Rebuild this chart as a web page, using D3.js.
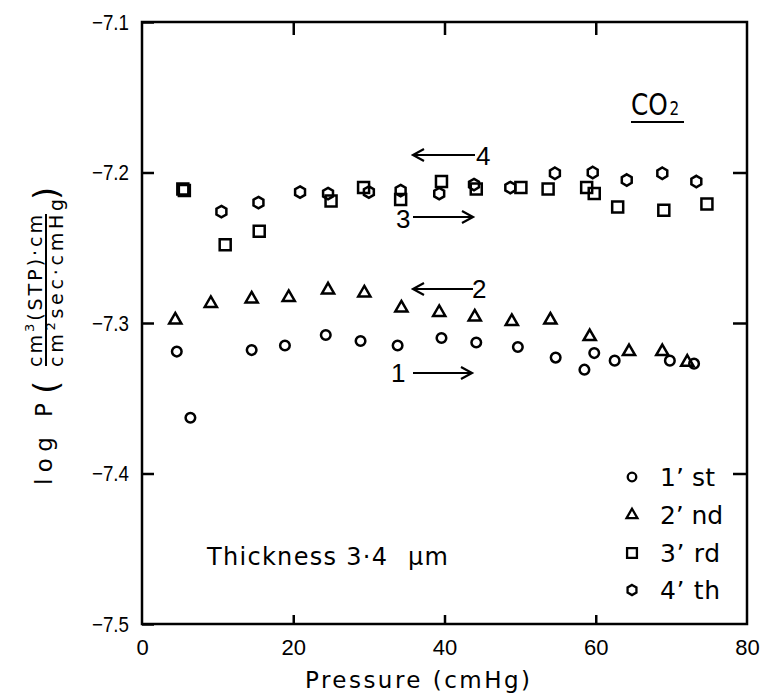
<!DOCTYPE html>
<html>
<head>
<meta charset="utf-8">
<script src="https://d3js.org/d3.v7.min.js"></script>
<title>log P vs pressure, CO2</title>
<style>
    body { margin: 0; background: #fff; }
    svg { display: block; }
    text { font-family: "DejaVu Sans", "Liberation Sans", sans-serif; fill: #000; }
    .num { font-family: "Liberation Sans", "DejaVu Sans", sans-serif; }
</style>
</head>
<body>
<svg id="chart" width="763" height="693"></svg>
<script>
// run 1 (circles)
const run1P = [4.6, 6.4, 14.5, 18.9, 24.3, 28.9, 33.8, 39.6, 44.2, 49.7, 54.7, 58.5, 59.8, 62.5, 69.8, 73.0];
const run1LogP = [-7.319, -7.363, -7.318, -7.315, -7.308, -7.312, -7.315, -7.310, -7.313, -7.316, -7.323, -7.331, -7.320, -7.325, -7.325, -7.327];
// run 2 (triangles)
const run2P = [4.4, 9.1, 14.5, 19.4, 24.6, 29.4, 34.3, 39.3, 44.0, 48.9, 54.0, 59.2, 64.4, 68.8, 72.1];
const run2LogP = [-7.298, -7.287, -7.284, -7.283, -7.278, -7.280, -7.290, -7.293, -7.296, -7.299, -7.298, -7.309, -7.319, -7.319, -7.326];
// run 3 (squares)
const run3P = [5.4, 5.6, 11.0, 15.5, 25.0, 29.3, 34.2, 39.6, 44.2, 50.1, 53.7, 58.8, 59.8, 62.9, 69.0, 74.7];
const run3LogP = [-7.211, -7.212, -7.248, -7.239, -7.219, -7.210, -7.218, -7.206, -7.211, -7.210, -7.211, -7.210, -7.214, -7.223, -7.225, -7.221];
// run 4 (hexagons)
const run4P = [10.5, 15.4, 20.9, 24.6, 30.0, 34.2, 39.3, 43.9, 48.7, 54.6, 59.6, 64.1, 68.8, 73.3];
const run4LogP = [-7.226, -7.220, -7.213, -7.214, -7.213, -7.212, -7.214, -7.208, -7.210, -7.2005, -7.200, -7.205, -7.2005, -7.206];

const xTicks = [0, 20, 40, 60, 80];
const yTicks = [-7.5, -7.4, -7.3, -7.2, -7.1];
const legendLabels = ["1\u2019 st", "2\u2019 nd", "3\u2019 rd", "4\u2019 th"];

const svg = d3.select("#chart");
const x = d3.scaleLinear().domain([0, 80]).range([142, 747]);
const y = d3.scaleLinear().domain([-7.5, -7.1]).range([624, 22]);

// pointy-top hexagon as a d3 symbol type
const symbolHexagon = {
    draw(context, size) {
        const r = Math.sqrt(size / (1.5 * Math.sqrt(3)));
        for (let i = 0; i < 6; i++) {
            const a = -Math.PI / 2 + i * Math.PI / 3;
            if (i === 0) context.moveTo(r * Math.cos(a), r * Math.sin(a));
            else context.lineTo(r * Math.cos(a), r * Math.sin(a));
        }
        context.closePath();
    }
};

const runs = [
    { p: run1P, v: run1LogP, type: d3.symbolCircle, size: 72 },
    { p: run2P, v: run2LogP, type: d3.symbolTriangle, size: 64 },
    { p: run3P, v: run3LogP, type: d3.symbolSquare, size: 121 },
    { p: run4P, v: run4LogP, type: symbolHexagon, size: 85 }
];

// frame
svg.append("rect")
    .attr("x", x(0)).attr("y", y(-7.1))
    .attr("width", x(80) - x(0)).attr("height", y(-7.5) - y(-7.1))
    .attr("fill", "none").attr("stroke", "#000").attr("stroke-width", 2.5);

function styleAxis(g) {
    g.select(".domain").remove();
    g.selectAll(".tick line").attr("stroke", "#000").attr("stroke-width", 2.5);
}

// left axis, ticks pointing inwards
svg.append("g")
    .attr("transform", `translate(${x(0)},0)`)
    .call(d3.axisLeft(y).tickValues(yTicks).tickSize(-12).tickPadding(13).tickFormat(d3.format(".1f")))
    .call(styleAxis)
    .call(g => g.selectAll("text")
        .attr("class", "num")
        .attr("font-size", 22)
        .attr("fill", "#000")
        .attr("textLength", 37)
        .attr("lengthAdjust", "spacingAndGlyphs"));

// right axis
svg.append("g")
    .attr("transform", `translate(${x(80)},0)`)
    .call(d3.axisRight(y).tickValues([-7.4, -7.3, -7.2]).tickSize(-14).tickFormat(""))
    .call(styleAxis);

// top axis
svg.append("g")
    .attr("transform", `translate(0,${y(-7.1)})`)
    .call(d3.axisTop(x).tickValues([20, 40, 60]).tickSize(-13).tickFormat(""))
    .call(styleAxis);

// bottom axis
svg.append("g")
    .attr("transform", `translate(0,${y(-7.5)})`)
    .call(d3.axisBottom(x).tickValues(xTicks).tickSize(-9).tickPadding(15))
    .call(styleAxis)
    .call(g => g.selectAll(".tick").filter(d => d === 0 || d === 80).select("line").remove())
    .call(g => g.selectAll("text").attr("class", "num").attr("font-size", 22).attr("fill", "#000"));

// data points
runs.forEach(run => {
    const sym = d3.symbol().type(run.type).size(run.size);
    svg.append("g")
        .selectAll("path")
        .data(run.p.map((p, i) => [p, run.v[i]]))
        .join("path")
        .attr("transform", d => `translate(${x(d[0])},${y(d[1])})`)
        .attr("d", sym)
        .attr("fill", "none")
        .attr("stroke", "#000")
        .attr("stroke-width", 2.5);
});

// legend
const legend = svg.append("g");
const legendY = [477, 515, 553, 590];
const legendLen = [55, 63, 60, 60];
runs.forEach((run, i) => {
    legend.append("path")
        .attr("transform", `translate(632,${legendY[i]})`)
        .attr("d", d3.symbol().type(run.type).size(run.size * 0.8))
        .attr("fill", "none").attr("stroke", "#000").attr("stroke-width", 2.3);
    legend.append("text")
        .attr("x", 660).attr("y", legendY[i] + 9)
        .attr("font-size", 25)
        .attr("textLength", legendLen[i])
        .attr("lengthAdjust", "spacing")
        .text(legendLabels[i]);
});

// arrows with run numbers
function arrow(x1, x2, yy, dir) {
    const tip = dir < 0 ? x1 : x2;
    svg.append("path")
        .attr("d", `M${x1},${yy}H${x2}M${tip - dir * 11},${yy - 6}L${tip},${yy}L${tip - dir * 11},${yy + 6}`)
        .attr("fill", "none").attr("stroke", "#000").attr("stroke-width", 2.2);
}
arrow(413, 475, 155, -1);
arrow(413, 473, 217, 1);
arrow(413, 473, 289, -1);
arrow(413, 472, 373, 1);
[["4", 476, 165], ["3", 396, 228], ["2", 472, 298], ["1", 391, 382]].forEach(d => {
    svg.append("text").attr("class", "num").attr("x", d[1]).attr("y", d[2])
        .attr("font-size", 26).text(d[0]);
});

// CO2 tag, condensed
const co2 = svg.append("text")
    .attr("transform", "translate(631,115) scale(0.8,1)")
    .attr("font-size", 31);
co2.append("tspan").text("CO");
co2.append("tspan").attr("dx", 2).attr("font-size", 19).text("2");
svg.append("line").attr("x1", 631).attr("x2", 684).attr("y1", 122).attr("y2", 122)
    .attr("stroke", "#000").attr("stroke-width", 2);

// thickness note
svg.append("text").attr("x", 207).attr("y", 565).attr("font-size", 24)
    .attr("textLength", 180).attr("lengthAdjust", "spacing").text("Thickness 3\u00b74");
svg.append("text").attr("x", 408).attr("y", 565).attr("font-size", 24)
    .attr("textLength", 40).attr("lengthAdjust", "spacing").text("\u00b5m");

// x axis title
svg.append("text").attr("x", 305).attr("y", 688).attr("font-size", 23)
    .attr("textLength", 225).attr("lengthAdjust", "spacing").text("Pressure (cmHg)");

// y axis title, rotated
const yl = svg.append("g").attr("transform", "rotate(-90)");
yl.append("text").attr("x", -485).attr("y", 52).attr("font-size", 23)
    .attr("textLength", 82).attr("lengthAdjust", "spacing").text("log P");
yl.append("text").attr("x", -394).attr("y", 58).attr("font-size", 34).text("(");
yl.append("text").attr("x", -200).attr("y", 58).attr("font-size", 34).text(")");
const num = yl.append("text").attr("x", -367).attr("y", 42).attr("font-size", 19)
    .attr("textLength", 152).attr("lengthAdjust", "spacing");
num.append("tspan").text("cm");
num.append("tspan").attr("dy", -8).attr("font-size", 13).text("3");
num.append("tspan").attr("dy", 8).text("(STP)\u00b7cm");
yl.append("line").attr("x1", -366).attr("x2", -214).attr("y1", 46).attr("y2", 46)
    .attr("stroke", "#000").attr("stroke-width", 2);
const den = yl.append("text").attr("x", -367).attr("y", 63).attr("font-size", 19)
    .attr("textLength", 168).attr("lengthAdjust", "spacing");
den.append("tspan").text("cm");
den.append("tspan").attr("dy", -8).attr("font-size", 13).text("2");
den.append("tspan").attr("dy", 8).text("sec\u00b7cmHg");
</script>
</body>
</html>
